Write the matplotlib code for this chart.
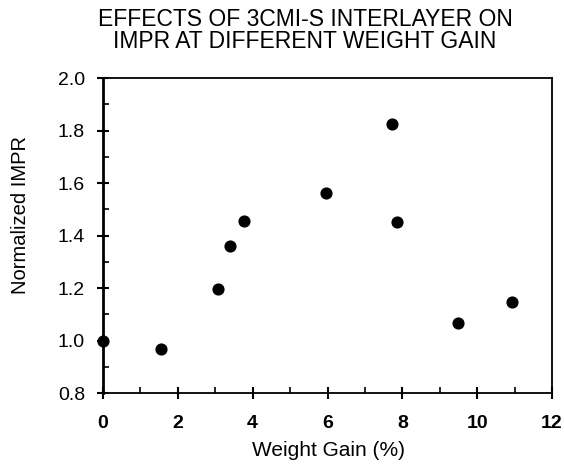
import matplotlib
matplotlib.use("Agg")
import matplotlib.pyplot as plt
from matplotlib.ticker import MultipleLocator

plt.rcParams['font.family'] = ['Liberation Sans', 'DejaVu Sans']

weight_gain = [0.0, 1.56, 3.07, 3.40, 3.78, 5.96, 7.73, 7.86, 9.49, 10.92]
norm_impr = [1.0, 0.966, 1.197, 1.361, 1.455, 1.563, 1.825, 1.451, 1.065, 1.148]

x_ticks = [0, 2, 4, 6, 8, 10, 12]
x_tick_labels = ["0", "2", "4", "6", "8", "10", "12"]
y_ticks = [0.8, 1.0, 1.2, 1.4, 1.6, 1.8, 2.0]
y_tick_labels = ["0.8", "1.0", "1.2", "1.4", "1.6", "1.8", "2.0"]

title_lines = ["EFFECTS OF 3CMI-S INTERLAYER ON", "IMPR AT DIFFERENT WEIGHT GAIN"]

fig = plt.figure(figsize=(5.64, 4.70), dpi=100)
ax = fig.add_axes([103/564, 1-393/470, (552-103)/564, (393-78)/470])

ax.scatter(weight_gain, norm_impr, s=60, color='black', zorder=3, clip_on=False)

ax.set_xlim(0, 12)
ax.set_ylim(0.8, 2.0)
ax.set_xticks(x_ticks)
ax.set_xticklabels(x_tick_labels, fontsize=14, fontweight='bold')
ax.set_yticks(y_ticks)
ax.set_yticklabels(y_tick_labels, fontsize=14)
ax.xaxis.set_minor_locator(MultipleLocator(1))
ax.yaxis.set_minor_locator(MultipleLocator(0.1))
ax.tick_params(which='major', direction='inout', length=8, width=1.5)
ax.tick_params(axis='x', which='major', pad=12)
ax.tick_params(axis='y', which='major', pad=9)
ax.tick_params(which='minor', direction='in', length=4, width=1.2)

for side in ['top', 'right', 'bottom']:
    ax.spines[side].set_linewidth(1.3)
ax.spines['left'].set_linewidth(2.0)

ax.set_xlabel("Weight Gain (%)", fontsize=15)
ax.set_ylabel("Normalized IMPR", fontsize=14.5)
ax.xaxis.set_label_coords((328-103)/449, -(450-393)/315)
ax.yaxis.set_label_coords((20-103)/449, (393-215)/315)
ax.xaxis.label.set_va('center')
ax.yaxis.label.set_va('center')

fig.text(305/564, 1-26/470, title_lines[0], ha='center', va='baseline', fontsize=16.5)
fig.text(305/564, 1-48/470, title_lines[1], ha='center', va='baseline', fontsize=16.5)

fig.savefig("out.png", dpi=100)
